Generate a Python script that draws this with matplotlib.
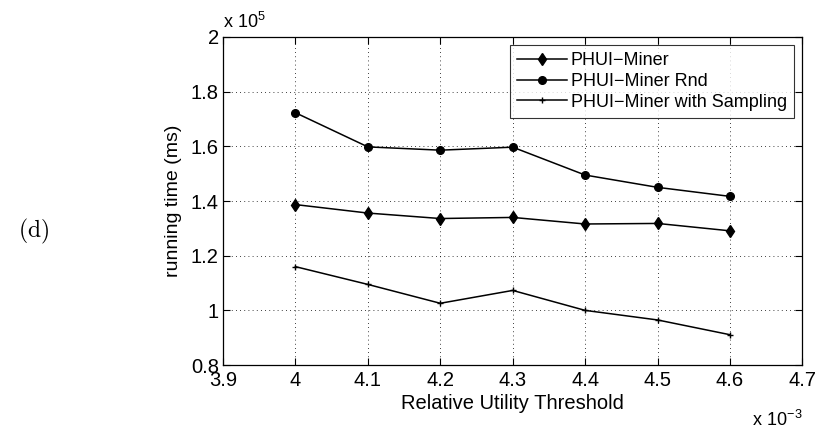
import matplotlib.pyplot as plt

plt.rcParams['font.family'] = ['Liberation Sans', 'DejaVu Sans']
plt.rcParams['mathtext.fontset'] = 'cm'

# thresholds in units of 1e-3, running times in units of 1e5 ms
thresholds = [4.0, 4.1, 4.2, 4.3, 4.4, 4.5, 4.6]
phui_miner = [1.387, 1.356, 1.336, 1.340, 1.316, 1.318, 1.291]
phui_rnd = [1.723, 1.598, 1.586, 1.597, 1.495, 1.450, 1.417]
phui_sampling = [1.160, 1.095, 1.026, 1.073, 1.000, 0.965, 0.911]

x_ticks = [3.9, 4.0, 4.1, 4.2, 4.3, 4.4, 4.5, 4.6, 4.7]
x_tick_labels = ['3.9', '4', '4.1', '4.2', '4.3', '4.4', '4.5', '4.6', '4.7']
y_ticks = [0.8, 1.0, 1.2, 1.4, 1.6, 1.8, 2.0]
y_tick_labels = ['0.8', '1', '1.2', '1.4', '1.6', '1.8', '2']

fig = plt.figure(figsize=(8.21, 4.30), dpi=100)
ax = fig.add_axes([0.2716, 0.151, 0.7058, 0.763])

ax.plot(thresholds, phui_miner, color='black', lw=1.1, marker='d', ms=6,
        label='PHUI\u2212Miner')
ax.plot(thresholds, phui_rnd, color='black', lw=1.1, marker='o', ms=5.5,
        label='PHUI\u2212Miner Rnd')
ax.plot(thresholds, phui_sampling, color='black', lw=1.1, marker='+', ms=5,
        mew=1.0, label='PHUI\u2212Miner with Sampling')

ax.set_xlim(3.9, 4.7)
ax.set_ylim(0.8, 2.0)
ax.set_xticks(x_ticks)
ax.set_xticklabels(x_tick_labels)
ax.set_yticks(y_ticks)
ax.set_yticklabels(y_tick_labels)
ax.tick_params(direction='in', top=True, right=True, labelsize=14.5, length=5,
               width=0.8)
ax.tick_params(axis='x', pad=4)
ax.tick_params(axis='y', pad=3)
ax.grid(True, linestyle=(0, (1, 4)), color='black', lw=0.6)
for s in ax.spines.values():
    s.set_linewidth(0.9)

ax.set_xlabel('Relative Utility Threshold', fontsize=14.5, labelpad=3)
ax.set_ylabel('running time (ms)', fontsize=14, labelpad=6)

# MATLAB-style exponent labels
ax.text(0.0, 1.027, r'x 10$^{\mathregular{5}}$', transform=ax.transAxes,
        fontsize=13, ha='left', va='baseline')
ax.text(1.0, -0.185, r'x 10$^{\mathregular{-3}}$', transform=ax.transAxes,
        fontsize=13, ha='right', va='baseline')

fig.text(0.022, 0.462, r'$\mathrm{(d)}$', fontsize=17, ha='left', va='center')

leg = ax.legend(loc='upper right', fontsize=13, frameon=True, fancybox=False,
                edgecolor='black', borderpad=0.4, labelspacing=0.2,
                handlelength=2.8, handletextpad=0.2, borderaxespad=0.45)
leg.get_frame().set_linewidth(0.8)

fig.savefig('out.png', dpi=100)
